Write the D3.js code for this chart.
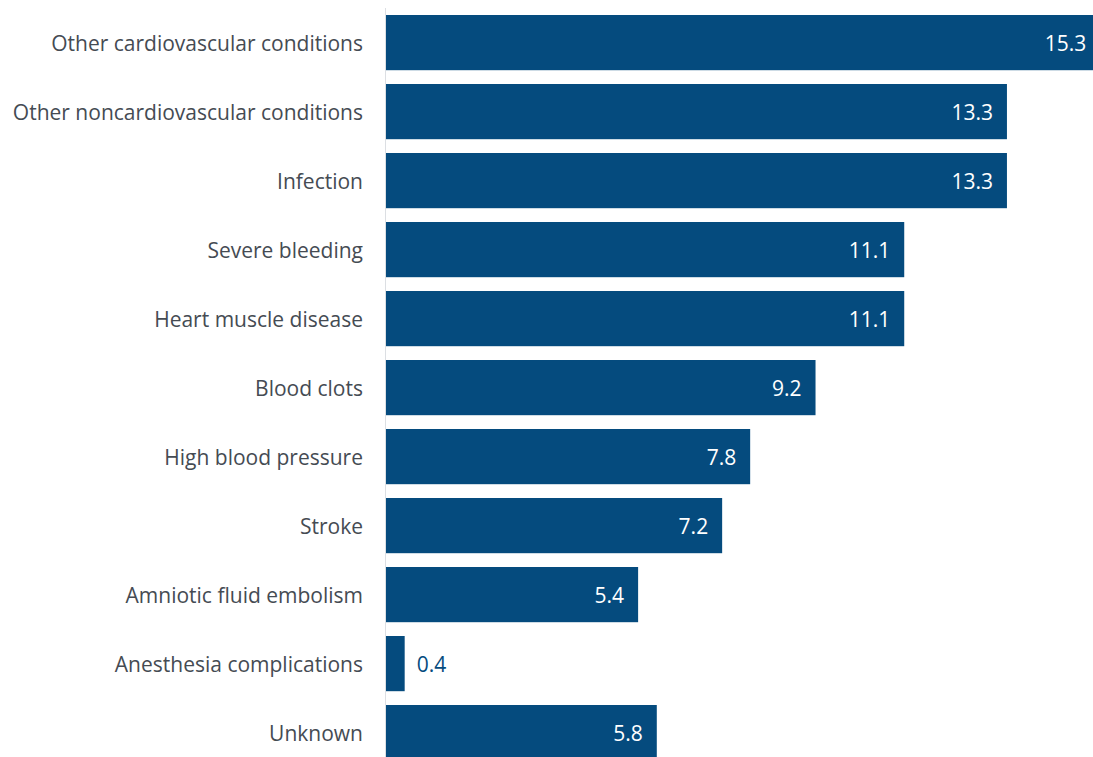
<!DOCTYPE html>
<html>
<head>
<meta charset="utf-8">
<script src="https://cdn.jsdelivr.net/npm/d3@7"></script>
<style>
  html, body { margin: 0; padding: 0; background: #fff; overflow: hidden; }
  svg { display: block; }
  text { font-family: "Open Sans", Lato, sans-serif; }
</style>
</head>
<body>
<svg id="chart" width="1093" height="757"></svg>
<script>
// Causes of pregnancy-related deaths, percent
const categories = [
  "Other cardiovascular conditions",
  "Other noncardiovascular conditions",
  "Infection",
  "Severe bleeding",
  "Heart muscle disease",
  "Blood clots",
  "High blood pressure",
  "Stroke",
  "Amniotic fluid embolism",
  "Anesthesia complications",
  "Unknown"
];
const values = [15.3, 13.3, 13.3, 11.1, 11.1, 9.2, 7.8, 7.2, 5.4, 0.4, 5.8];
const valueLabels = ["15.3", "13.3", "13.3", "11.1", "11.1", "9.2", "7.8", "7.2", "5.4", "0.4", "5.8"];

const data = categories.map((c, i) => ({ category: c, value: values[i], label: valueLabels[i] }));

const svg = d3.select("#chart");
const x0 = 386;
const barColor = "#054b7e";

const x = d3.scaleLinear().domain([0, 16]).range([x0, x0 + 747]);
const y = d3.scaleBand()
  .domain(categories)
  .range([15, 760.2])
  .paddingInner(0.2)
  .paddingOuter(0);

// baseline axis
svg.append("line")
  .attr("x1", x0 - 0.5).attr("x2", x0 - 0.5)
  .attr("y1", 8).attr("y2", 757)
  .attr("stroke", "#dcdfe3").attr("stroke-width", 1);

// bars
svg.selectAll("rect.bar")
  .data(data)
  .join("rect")
  .attr("class", "bar")
  .attr("x", x(0))
  .attr("y", d => y(d.category))
  .attr("width", d => x(d.value) - x(0))
  .attr("height", y.bandwidth())
  .attr("fill", barColor);

// category labels
svg.selectAll("text.cat")
  .data(data)
  .join("text")
  .attr("class", "cat")
  .attr("x", 363)
  .attr("y", d => y(d.category) + y.bandwidth() / 2 + 1.5)
  .attr("dy", "0.35em")
  .attr("text-anchor", "end")
  .attr("font-size", 21)
  .attr("fill", "#454b53")
  .text(d => d.category);

// value labels: inside the bar when it is wide enough, otherwise just outside
svg.selectAll("text.val")
  .data(data)
  .join("text")
  .attr("class", "val")
  .attr("x", d => (x(d.value) - x(0) > 60) ? x(d.value) - 14 : x(d.value) + 12)
  .attr("y", d => y(d.category) + y.bandwidth() / 2 + 1.5)
  .attr("dy", "0.35em")
  .attr("text-anchor", d => (x(d.value) - x(0) > 60) ? "end" : "start")
  .attr("font-size", 21)
  .attr("fill", d => (x(d.value) - x(0) > 60) ? "#ffffff" : barColor)
  .text(d => d.label);
</script>
</body>
</html>
